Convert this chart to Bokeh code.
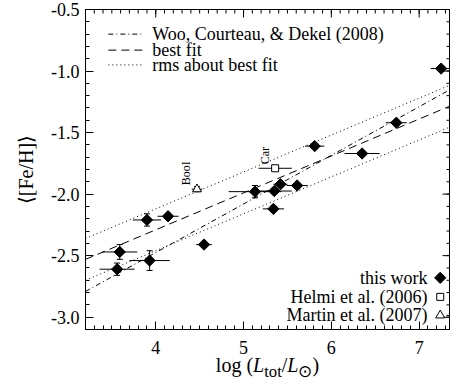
import numpy as np
from bokeh.plotting import figure
from bokeh.layouts import column
from bokeh.models import (Range1d, FixedTicker, Label, Whisker, ColumnDataSource, TeeHead, Div)
from bokeh.embed import file_html
from bokeh.resources import INLINE

# ---------------- data ----------------
# this work
logL = [7.25, 6.74, 5.81, 6.35, 5.13, 5.35, 5.42, 5.61, 5.34, 3.90, 4.14, 3.59, 3.56, 3.93, 4.55]
logL_err = [0.12, 0.12, 0.11, 0.20, 0.30, 0.20, 0.08, 0.12, 0.12, 0.16, 0.12, 0.20, 0.20, 0.23, 0.09]
feh = [-0.98, -1.42, -1.61, -1.67, -1.98, -1.975, -1.92, -1.93, -2.12, -2.21, -2.18, -2.47, -2.61, -2.54, -2.41]
feh_err = [0.02, 0.02, 0.02, 0.02, 0.05, 0.02, 0.02, 0.02, 0.02, 0.05, 0.02, 0.06, 0.05, 0.08, 0.02]

# Helmi et al. (2006)
helmi_logL = [5.36]
helmi_logL_err = [0.19]
helmi_feh = [-1.79]
helmi_feh_err = [0.02]
helmi_names = ["Car"]

# Martin et al. (2007)
martin_logL = [4.47]
martin_logL_err = [0.06]
martin_feh = [-1.96]
martin_feh_err = [0.02]
martin_names = ["BooI"]

# relations: <[Fe/H]> = a + b*(logL - 6)
best_a, best_b, best_rms = -1.69, 0.30, 0.17
woo_a, woo_b = -1.685, 0.395

x_ticks = [4, 5, 6, 7]
x_tick_labels = ["4", "5", "6", "7"]
y_ticks = [-3.0, -2.5, -2.0, -1.5, -1.0, -0.5]
y_tick_labels = ["-3.0", "-2.5", "-2.0", "-1.5", "-1.0", "-0.5"]

legend_lines = ["Woo, Courteau, & Dekel (2008)", "best fit", "rms about best fit"]
legend_points = ["this work", "Helmi et al. (2006)", "Martin et al. (2007)"]
x_title_html = "log (<i>L</i><sub>tot</sub>/<i>L</i><sub>\u2299</sub>)"
y_title = "\u27e8[Fe/H]\u27e9"

# ---------------- figure ----------------
XMIN, XMAX = 3.2, 7.357
YMIN, YMAX = -3.1, -0.5
FW, FH = 365, 320
FONT = "Liberation Serif"
FS = "18px"

p = figure(frame_width=FW, frame_height=FH, output_backend="svg", toolbar_location=None,
           x_range=Range1d(XMIN, XMAX), y_range=Range1d(YMIN, YMAX),
           min_border_left=85, min_border_right=0, min_border_top=9, min_border_bottom=33,
           background_fill_color="white", border_fill_color="white")
p.grid.visible = False
p.outline_line_color = "black"
p.outline_line_width = 1

x_minor = [round(3.2 + 0.1 * i, 2) for i in range(0, 42)]
y_minor = [round(-3.1 + 0.1 * i, 2) for i in range(0, 27)]

for ax, ticks, minor, labels in ((p.xaxis[0], x_ticks, x_minor, x_tick_labels),
                                 (p.yaxis[0], y_ticks, y_minor, y_tick_labels)):
    ax.ticker = FixedTicker(ticks=ticks, minor_ticks=minor)
    ax.major_label_overrides = {t: l for t, l in zip(ticks, labels)}
    ax.major_tick_in = 8
    ax.major_tick_out = 0
    ax.minor_tick_in = 4
    ax.minor_tick_out = 0
    ax.axis_line_color = "black"
    ax.major_tick_line_color = "black"
    ax.minor_tick_line_color = "black"
    ax.major_label_text_font = FONT
    ax.major_label_text_font_size = FS
    ax.major_label_text_color = "black"

p.xaxis[0].major_label_standoff = 11
ya = p.yaxis[0]
ya.major_label_standoff = 6
ya.axis_label = y_title
ya.axis_label_text_font = FONT
ya.axis_label_text_font_style = "normal"
ya.axis_label_text_font_size = "20px"
ya.axis_label_text_color = "black"
ya.axis_label_standoff = 11

# inward ticks on the top and right edges (same tick lists)
sx = FW / (XMAX - XMIN)
sy = FH / (YMAX - YMIN)
tx = np.array(x_ticks, float)
mx = np.array(x_minor, float)
p.segment(tx, YMAX, tx, YMAX - 8 / sy, line_color="black", line_width=1)
p.segment(mx, YMAX, mx, YMAX - 4 / sy, line_color="black", line_width=1)
ty = np.array(y_ticks, float)
my = np.array(y_minor, float)
p.segment(XMAX, ty, XMAX - 8 / sx, ty, line_color="black", line_width=1)
p.segment(XMAX, my, XMAX - 4 / sx, my, line_color="black", line_width=1)

# ---------------- relations ----------------
xx = np.array([XMIN, XMAX])
best = best_a + best_b * (xx - 6)
woo = woo_a + woo_b * (xx - 6)
p.line(xx, woo, line_color="black", line_width=1, line_dash="5 3 1 3")
p.line(xx, best, line_color="black", line_width=1, line_dash="8 5")
p.line(xx, best + best_rms, line_color="black", line_width=1, line_dash="1 3")
p.line(xx, best - best_rms, line_color="black", line_width=1, line_dash="1 3")

# ---------------- points ----------------
def add_points(xs, xe, ys, ye, marker, size, fill, angle=0.0):
    xs, xe, ys, ye = map(np.asarray, (xs, xe, ys, ye))
    p.segment(xs - xe, ys, xs + xe, ys, line_color="black", line_width=1)
    src = ColumnDataSource(dict(x=xs, lo=ys - ye, hi=ys + ye))
    p.add_layout(Whisker(source=src, base="x", lower="lo", upper="hi", dimension="height",
                         line_color="black", line_width=1,
                         lower_head=TeeHead(size=6, line_color="black"),
                         upper_head=TeeHead(size=6, line_color="black")))
    p.scatter(xs, ys, marker=marker, size=size, angle=angle, fill_color=fill,
              line_color="black", line_width=1)

add_points(logL, logL_err, feh, feh_err, "square", 8, "black", angle=np.pi / 4)
add_points(helmi_logL, helmi_logL_err, helmi_feh, helmi_feh_err, "square", 7, "white")
add_points(martin_logL, martin_logL_err, martin_feh, martin_feh_err, "triangle", 9, "white")

for xs, ys, names, dx in ((helmi_logL, helmi_feh, helmi_names, -3),
                          (martin_logL, martin_feh, martin_names, -4)):
    for x, y, n in zip(xs, ys, names):
        p.add_layout(Label(x=x, y=y, text=n, angle=np.pi / 2, x_offset=dx, y_offset=4,
                           text_align="left", text_baseline="bottom", text_font=FONT,
                           text_font_size="12px", text_color="black"))

# ---------------- legends ----------------
leg_x0, leg_x1, leg_tx = 3.46, 3.85, 3.96
leg_rows = [-0.70, -0.83, -0.95]
dashes = ["5 3 1 3", "8 5", "1 3"]
for txt, yy, d in zip(legend_lines, leg_rows, dashes):
    p.line([leg_x0, leg_x1], [yy, yy], line_color="black", line_width=1, line_dash=d)
    p.add_layout(Label(x=leg_tx, y=yy, text=txt, text_align="left", text_baseline="middle",
                       text_font=FONT, text_font_size=FS, text_color="black"))

pt_mx, pt_tx = 7.24, 7.095
pt_rows = [-2.68, -2.835, -2.985]
pt_markers = [("square", 8, "black", np.pi / 4), ("square", 7, "white", 0.0),
              ("triangle", 9, "white", 0.0)]
for txt, yy, (m, s, f, a) in zip(legend_points, pt_rows, pt_markers):
    p.scatter([pt_mx], [yy], marker=m, size=s, fill_color=f, angle=a, line_color="black")
    p.add_layout(Label(x=pt_tx, y=yy, text=txt, text_align="right", text_baseline="middle",
                       text_font=FONT, text_font_size=FS, text_color="black"))
p.segment([pt_mx + 0.07], [pt_rows[2]], [pt_mx + 0.11], [pt_rows[2]], line_color="black")

# ---------------- x axis title ----------------
title = Div(text=x_title_html, width=FW, height=22, margin=(-7, 0, 0, 85),
            styles={"font-family": FONT, "font-size": "20px", "line-height": "20px",
                    "text-align": "center", "color": "black", "width": f"{FW}px"})

layout = column(p, title, spacing=0)
open("out.html", "w").write(file_html(layout, INLINE))
